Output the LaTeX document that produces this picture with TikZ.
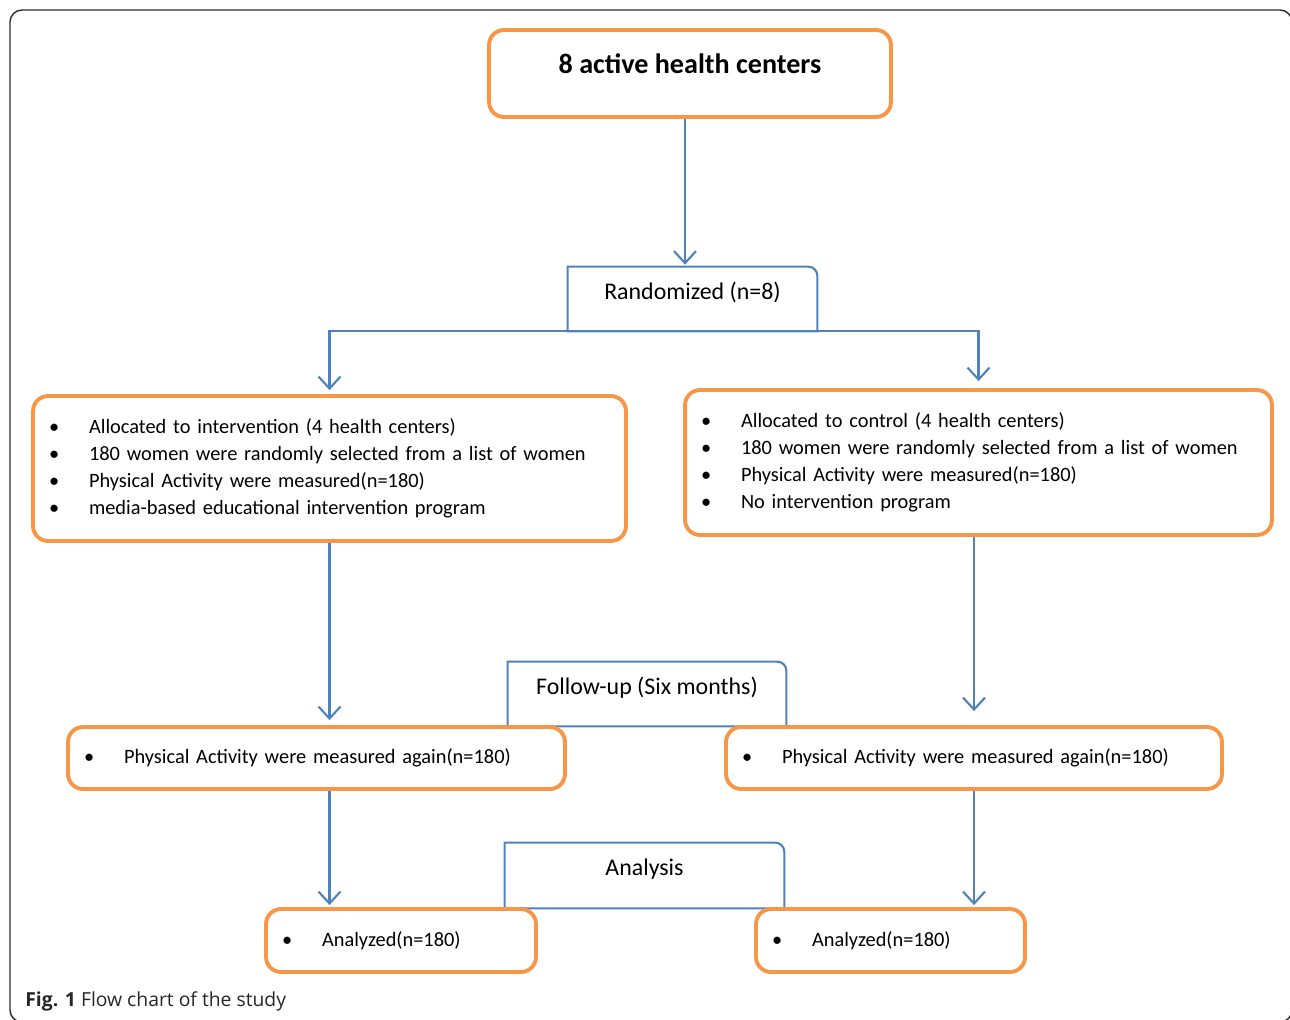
\documentclass[tikz,border=0pt]{standalone}
\usepackage{fontspec}
\setmainfont{Carlito}
\newfontfamily\capfont{Open Sans}
\usepackage{xcolor}
\usetikzlibrary{arrows.meta,backgrounds}
\pgfdeclarelayer{edgelayer}
\pgfdeclarelayer{nodelayer}
\pgfsetlayers{background,edgelayer,nodelayer,main}
\definecolor{boxorange}{RGB}{247,150,70}
\definecolor{lineblue}{RGB}{79,129,189}
\definecolor{framegrey}{RGB}{45,45,45}
\tikzstyle{obox}=[draw=boxorange,line width=2.2pt,fill=white,rounded corners=0.3cm,inner ysep=0pt,inner xsep=0.32cm,align=left,font=\fontsize{11.6}{15.35}\selectfont]
\tikzstyle{tbox}=[obox,align=center,inner ysep=0pt,font=\fontsize{16}{19}\selectfont\bfseries]
\tikzstyle{bbox}=[inner sep=0pt,font=\fontsize{13.6}{16}\selectfont]
\tikzstyle{bline}=[draw=lineblue,line width=1.2pt]
\tikzstyle{barrow}=[bline,-{Straight Barb[length=0.24cm,width=0.44cm]}]
\newcommand{\blt}{\makebox[0.8cm][l]{\textbullet}}
\newcommand{\tabbox}[1]{\draw[style=bline] (#1.south west) -- (#1.north west) -- ([xshift=-0.18cm]#1.north east) arc[start angle=90,end angle=0,radius=0.18cm] -- (#1.south east) -- cycle;}

\begin{document}
\begin{tikzpicture}[x=0.02cm,y=-0.02cm]
	\useasboundingbox (0,0) rectangle (1290,1019);
	\begin{scope}
		\clip (0,0) rectangle (1290,1019);
		\draw [framegrey,line width=0.8pt,rounded corners=0.24cm] (10,10) rectangle (1292,1022);
	\end{scope}
	\begin{pgfonlayer}{nodelayer}
		\node [style=tbox, minimum width=8.04cm, text height=0.86cm, text depth=0.88cm] (hc) at (690, 73.5) {8 active health centers};
		\node [style=bbox, minimum width=4.98cm, text height=0.64cm, text depth=0.64cm] (rand) at (692.5, 299) {Randomized (n=8)};
		\node [style=obox, text width=11.22cm, minimum height=2.9cm] (alloc) at (329.5, 468.5) {\blt Allocated to intervention (4 health centers)\\\blt 180 women were randomly selected from a list of women\\\blt Physical Activity were measured(n=180)\\\blt media-based educational intervention program};
		\node [style=obox, text width=11.10cm, minimum height=2.9cm] (ctrl) at (978.5, 462.5) {\blt Allocated to control (4 health centers)\\\blt 180 women were randomly selected from a list of women\\\blt Physical Activity were measured(n=180)\\\blt No intervention program};
		\node [style=bbox, minimum width=5.56cm, text height=0.64cm, text depth=0.64cm] (fup) at (647, 694) {Follow-up (Six months)};
		\node [style=obox, text width=9.30cm, minimum height=1.24cm] (pal) at (316.5, 758) {\blt Physical Activity were measured again(n=180)};
		\node [style=obox, text width=9.28cm, minimum height=1.24cm] (par) at (974, 758) {\blt Physical Activity were measured again(n=180)};
		\node [style=bbox, minimum width=5.58cm, text height=0.65cm, text depth=0.65cm] (ana) at (644.5, 875.5) {Analysis};
		\node [style=obox, text width=4.76cm, minimum height=1.26cm] (anl) at (401, 940.5) {\blt Analyzed(n=180)};
		\node [style=obox, text width=4.74cm, minimum height=1.26cm] (anr) at (890.5, 940.5) {\blt Analyzed(n=180)};
		\node [anchor=west, inner sep=0pt, font=\capfont\fontsize{11}{13}\selectfont, text=black!85] (cap) at (25, 1001) {\textbf{Fig. 1} Flow chart of the study};
	\end{pgfonlayer}
	\begin{pgfonlayer}{edgelayer}
		\tabbox{rand}
		\tabbox{fup}
		\tabbox{ana}
		\draw [style=barrow, shorten >=0.04cm] ([xshift=-0.1cm]hc.south) -- ([xshift=-0.1cm]hc.south |- rand.north);
		\draw [style=barrow, shorten >=0.08cm] (rand.south) -| (alloc.north);
		\draw [style=barrow, shorten >=0.14cm] (rand.south) -| (ctrl.north);
		\draw [style=barrow, shorten >=0.1cm] (alloc.south) -- (alloc.south |- pal.north);
		\draw [style=barrow, shorten >=0.28cm] (par.north |- ctrl.south) -- (par.north);
		\draw [style=barrow, shorten >=0.04cm] (alloc.south |- pal.south) -- (alloc.south |- anl.north);
		\draw [style=barrow, shorten >=0.04cm] (par.south) -- (par.south |- anr.north);
	\end{pgfonlayer}
\end{tikzpicture}
\end{document}
